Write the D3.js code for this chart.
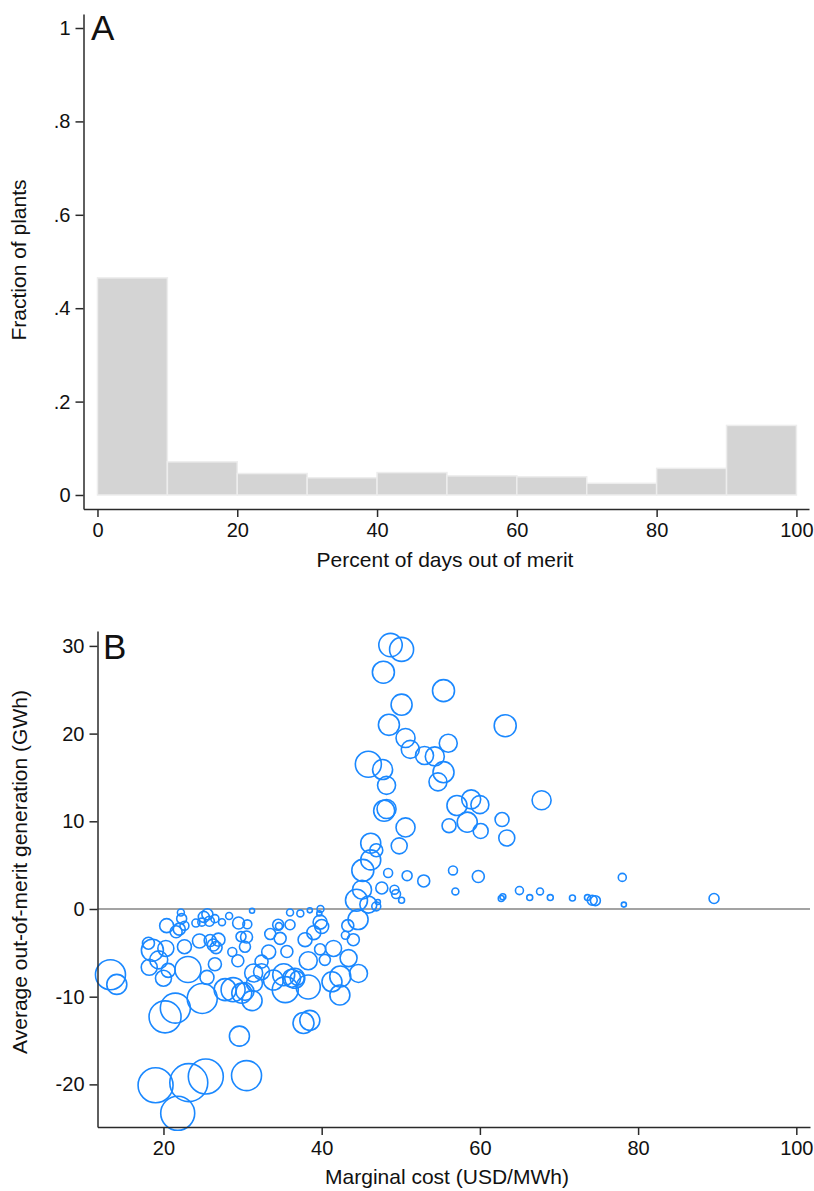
<!DOCTYPE html>
<html>
<head>
<meta charset="utf-8">
<script src="https://cdn.jsdelivr.net/npm/d3@7"></script>
<style>
  body { margin: 0; background: #fff; }
  text { font-family: "Liberation Sans", Arial, sans-serif; fill: #111; }
</style>
</head>
<body>
<svg id="fig" width="814" height="1191"></svg>
<script>
// Panel A: histogram of plants by share of days out of merit
const binStart = [0, 10, 20, 30, 40, 50, 60, 70, 80, 90];
const binWidth = 10;
const plantFraction = [0.465, 0.071, 0.046, 0.037, 0.048, 0.041, 0.039, 0.025, 0.057, 0.149];
const fractionTicks = [0, 0.2, 0.4, 0.6, 0.8, 1];
const percentTicks = [0, 20, 40, 60, 80, 100];

// Panel B: plant-level marginal cost vs average out-of-merit generation, sized by capacity
const marginalCost = [
  48.7, 50.1, 47.8, 55.4, 50.1, 63.2, 48.5, 50.6, 56.0, 51.2,
  53.0, 54.3, 45.9, 47.7, 55.4, 54.7, 48.2, 67.8, 57.1, 58.9,
  60.0, 58.4, 56.1, 60.1, 62.8, 63.4, 47.9, 48.2, 50.6, 49.8,
  46.2, 46.9, 46.2, 45.2, 48.4, 50.8, 52.9, 56.6, 59.8, 47.6,
  49.2, 49.4, 50.1, 56.9, 45.1, 44.4, 45.9, 46.9, 47.1, 44.6,
  62.7, 62.9, 65.0, 66.3, 67.6, 68.9, 71.7, 73.6, 74.2, 74.6,
  78.0, 78.2, 89.6, 43.3, 43.0, 44.0, 36.0, 37.3, 38.5, 39.85,
  39.7, 39.8, 40.0, 39.0, 37.9, 34.5, 34.6, 36.0, 33.5, 34.75,
  33.3, 35.6, 38.3, 39.8, 41.5, 40.4, 43.4, 35.2, 36.2, 36.9,
  38.3, 35.4, 33.9, 42.35, 44.65, 41.3, 42.3, 37.7, 38.5, 22.2,
  22.3, 20.4, 21.6, 22.0, 22.65, 24.1, 24.85, 25.1, 25.55, 25.8,
  26.5, 27.4, 28.3, 29.5, 30.6, 31.2, 18.1, 18.6, 20.3, 22.65,
  24.55, 25.9, 26.3, 26.95, 29.8, 30.5, 30.3, 28.7, 29.4, 18.2,
  19.4, 20.6, 20.0, 23.1, 26.5, 25.5, 13.3, 14.1, 29.9, 28.8,
  27.8, 31.2, 31.5, 32.4, 32.4, 24.9, 20.2, 21.5, 29.6, 19.0,
  25.35, 23.2, 21.8, 30.5, 26.65, 31.4, 30.3, 36.6
];
const oomGeneration = [
  30.1, 29.6, 27.0, 24.9, 23.3, 20.9, 21.0, 19.5, 18.9, 18.2,
  17.5, 17.4, 16.5, 15.9, 15.6, 14.5, 14.1, 12.4, 11.8, 12.5,
  11.9, 9.9, 9.5, 8.9, 10.2, 8.1, 11.2, 11.4, 9.3, 7.2,
  7.5, 6.7, 5.6, 4.4, 4.1, 3.8, 3.2, 4.4, 3.7, 2.4,
  2.2, 1.7, 1.0, 2.0, 2.2, 1.0, 0.5, 0.3, 0.8, -1.2,
  1.2, 1.4, 2.1, 1.3, 2.0, 1.3, 1.25, 1.3, 1.0, 0.95,
  3.6, 0.5, 1.2, -1.9, -3.0, -3.5, -0.4, -0.5, -0.15, 0.0,
  -0.5, -1.5, -2.0, -2.7, -3.5, -1.8, -1.95, -1.8, -2.85, -3.35,
  -4.9, -4.85, -5.9, -4.6, -4.5, -5.8, -5.6, -7.5, -7.9, -7.9,
  -8.9, -9.2, -8.1, -7.7, -7.35, -8.3, -9.8, -13.0, -12.7, -0.4,
  -1.1, -1.9, -2.6, -2.3, -1.9, -1.6, -1.5, -0.9, -0.6, -1.4,
  -1.1, -1.5, -0.8, -1.6, -1.75, -0.2, -3.9, -4.7, -4.5, -4.3,
  -3.65, -3.6, -4.1, -3.5, -3.15, -3.2, -4.3, -4.9, -5.9, -6.65,
  -5.8, -7.0, -7.9, -6.9, -6.3, -7.8, -7.5, -8.6, -9.6, -9.2,
  -9.2, -10.45, -8.5, -7.15, -6.0, -10.2, -12.3, -11.3, -14.5, -20.1,
  -19.1, -19.8, -23.3, -19.0, -4.4, -7.3, -9.4, -7.9
];
const capacity = [
  855, 900, 755, 755, 690, 755, 690, 565, 505, 505,
  505, 565, 1055, 625, 690, 505, 505, 565, 625, 565,
  505, 625, 305, 350, 305, 400, 690, 565, 565, 400,
  625, 265, 625, 755, 125, 155, 225, 125, 225, 225,
  125, 125, 55, 75, 565, 755, 450, 125, 40, 625,
  55, 55, 100, 55, 75, 55, 55, 55, 155, 155,
  100, 40, 155, 225, 100, 225, 75, 75, 40, 75,
  40, 305, 305, 305, 305, 190, 75, 155, 190, 225,
  305, 225, 505, 190, 400, 190, 450, 755, 505, 305,
  900, 1055, 625, 690, 505, 625, 625, 690, 625, 75,
  155, 305, 225, 225, 125, 100, 100, 190, 190, 155,
  100, 75, 75, 225, 125, 40, 225, 755, 400, 305,
  305, 225, 225, 265, 155, 225, 190, 125, 225, 400,
  505, 305, 400, 1055, 265, 305, 1405, 625, 625, 900,
  755, 625, 400, 400, 265, 1405, 1600, 1405, 625, 1910,
  1910, 2250, 1805, 1405, 225, 505, 505, 625
];
const costTicks = [20, 40, 60, 80, 100];
const genTicks = [-20, -10, 0, 10, 20, 30];

const svg = d3.select("#fig");
svg.append("rect").attr("width", 814).attr("height", 1191).attr("fill", "#fff");

function styleAxis(g) {
  g.select(".domain").attr("stroke", "#2a2a2a").attr("stroke-width", 1.5);
  g.selectAll(".tick line").attr("stroke", "#2a2a2a").attr("stroke-width", 1.5);
  g.selectAll(".tick text").attr("font-size", 20).attr("fill", "#111")
    .style("font-family", '"Liberation Sans", Arial, sans-serif');
}

// ---------- Panel A ----------
const xA = d3.scaleLinear().domain([-2.0, 101.8]).range([83.5, 809]);
const yA = d3.scaleLinear().domain([-0.03, 1.03]).range([509, 14]);

const gA = svg.append("g");
gA.selectAll("rect.bar")
  .data(binStart.map((b, i) => ({ b, f: plantFraction[i] })))
  .join("rect")
  .attr("class", "bar")
  .attr("x", d => xA(d.b))
  .attr("width", d => xA(d.b + binWidth) - xA(d.b))
  .attr("y", d => yA(d.f))
  .attr("height", d => yA(0) - yA(d.f))
  .attr("fill", "#d4d4d4")
  .attr("stroke", "#ededed")
  .attr("stroke-width", 1.5);

const fracFmt = d => d === 0 ? "0" : d === 1 ? "1" : d3.format(".1f")(d).replace(/^0/, "");

gA.append("g").attr("transform", "translate(0,509)")
  .call(d3.axisBottom(xA).tickValues(percentTicks).tickSize(8).tickSizeOuter(0).tickPadding(6))
  .call(styleAxis);
gA.append("g").attr("transform", "translate(83.5,0)")
  .call(d3.axisLeft(yA).tickValues(fractionTicks).tickFormat(fracFmt).tickSize(8).tickSizeOuter(0).tickPadding(5))
  .call(styleAxis);

gA.append("text").attr("x", 91).attr("y", 40).attr("font-size", 35).text("A");
gA.append("text").attr("x", 445).attr("y", 567).attr("text-anchor", "middle")
  .attr("font-size", 21).text("Percent of days out of merit");
gA.append("text").attr("transform", "translate(26,260) rotate(-90)").attr("text-anchor", "middle")
  .attr("font-size", 21).text("Fraction of plants");

// ---------- Panel B ----------
const xB = d3.scaleLinear().domain([11.66, 101.73]).range([97.5, 810]);
const yB = d3.scaleLinear().domain([-24.86, 31.7]).range([1127, 631]);
const rB = d3.scaleSqrt().domain([0, 2000]).range([0, 17.9]);

const gB = svg.append("g");
gB.append("line")
  .attr("x1", xB.range()[0]).attr("x2", xB.range()[1])
  .attr("y1", yB(0)).attr("y2", yB(0))
  .attr("stroke", "#a3a3a3").attr("stroke-width", 2);

gB.selectAll("circle.plant")
  .data(marginalCost.map((c, i) => ({ c, g: oomGeneration[i], cap: capacity[i] })))
  .join("circle")
  .attr("class", "plant")
  .attr("cx", d => xB(d.c))
  .attr("cy", d => yB(d.g))
  .attr("r", d => rB(d.cap))
  .attr("fill", "none")
  .attr("stroke", "#1a88ff")
  .attr("stroke-width", 1.6);

// Stata-style hyphen minus on tick labels
const genFmt = d => String(d);

gB.append("g").attr("transform", "translate(0,1127)")
  .call(d3.axisBottom(xB).tickValues(costTicks).tickSize(8).tickSizeOuter(0).tickPadding(6))
  .call(styleAxis);
gB.append("g").attr("transform", "translate(97.5,0)")
  .call(d3.axisLeft(yB).tickValues(genTicks).tickFormat(genFmt).tickSize(8).tickSizeOuter(0).tickPadding(5))
  .call(styleAxis);

gB.append("text").attr("x", 103).attr("y", 659).attr("font-size", 35).text("B");
gB.append("text").attr("x", 447).attr("y", 1184).attr("text-anchor", "middle")
  .attr("font-size", 21).text("Marginal cost (USD/MWh)");
gB.append("text").attr("transform", "translate(27,872) rotate(-90)").attr("text-anchor", "middle")
  .attr("font-size", 21).text("Average out-of-merit generation (GWh)");
</script>
</body>
</html>
